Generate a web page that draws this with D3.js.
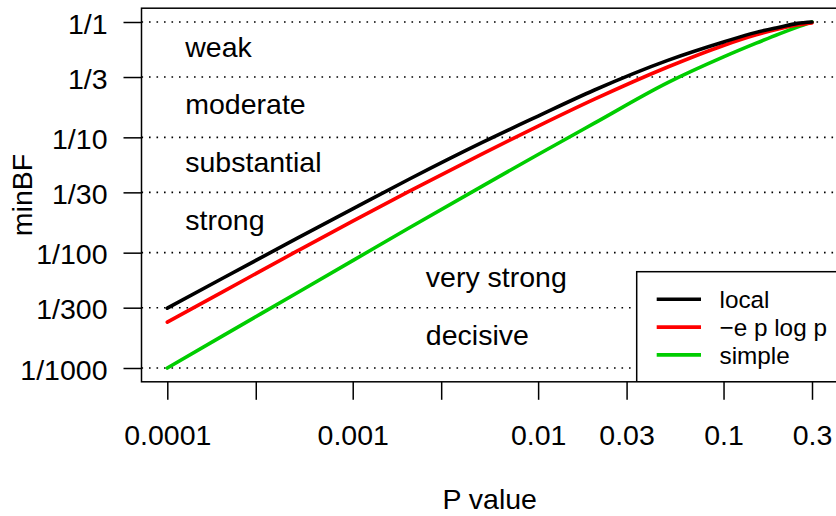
<!DOCTYPE html>
<html>
<head>
<meta charset="utf-8">
<script src="https://cdn.jsdelivr.net/npm/d3@7"></script>
<style>
  body { margin: 0; background: #fff; }
  svg { display: block; font-family: "Liberation Sans", Arial, sans-serif; }
</style>
</head>
<body>
<svg width="836" height="516"></svg>
<script>
// values
var pValues  = [0.0001, 0.0002, 0.0005, 0.001, 0.002, 0.005, 0.01, 0.02, 0.05, 0.1, 0.15, 0.2, 0.25, 0.3];
var localBF  = [0.0033, 0.00603, 0.0133, 0.0240, 0.0431, 0.0904, 0.153, 0.256, 0.465, 0.671, 0.813, 0.902, 0.973, 1.0];
var eplogpBF = [0.0025, 0.0046, 0.0103, 0.0188, 0.0338, 0.0720, 0.125, 0.213, 0.407, 0.626, 0.774, 0.875, 0.942, 0.982];
var simpleBF = [0.0010, 0.00191, 0.00447, 0.00853, 0.0163, 0.0378, 0.071, 0.132, 0.298, 0.498, 0.655, 0.789, 0.903, 1.0];

var seriesNames  = ["local", "\u2212e p log p", "simple"];
var seriesColors = ["#000000", "#ff0000", "#00cd00"];

var xTicks = [0.0001, 0.0003, 0.001, 0.003, 0.01, 0.03, 0.1, 0.3];
var xTickLabels = ["0.0001", "", "0.001", "", "0.01", "0.03", "0.1", "0.3"];
var yTicks = [1, 1/3, 1/10, 1/30, 1/100, 1/300, 1/1000];
var yTickLabels = ["1/1", "1/3", "1/10", "1/30", "1/100", "1/300", "1/1000"];

var bandNames = ["weak", "moderate", "substantial", "strong", "very strong", "decisive"];
var bandX = [0.000125, 0.000125, 0.000125, 0.000125, 0.00248, 0.00248];

var svg = d3.select("svg"),
    fs = 28.5;

var x = d3.scaleLog().domain([0.0001, 0.3]).range([167.3, 812]);
var y = d3.scaleLog().domain([1, 0.001]).range([22, 368]);

var pLeft = 141.5, pRight = 837.8, pTop = 8.2, pBottom = 381.8;

svg.append("defs").append("clipPath").attr("id", "plotclip")
    .append("rect").attr("x", pLeft).attr("y", pTop)
    .attr("width", pRight - pLeft).attr("height", pBottom - pTop);

var plot = svg.append("g").attr("clip-path", "url(#plotclip)");

// dotted reference lines
plot.selectAll(".grid")
    .data(yTicks)
    .enter().append("line")
    .attr("x1", pLeft).attr("x2", pRight)
    .attr("y1", function(d) { return y(d); })
    .attr("y2", function(d) { return y(d); })
    .attr("stroke", "#000")
    .attr("stroke-width", 1.6)
    .attr("stroke-dasharray", "1.6,5.9");

// band labels, centred between two reference lines
plot.selectAll(".band")
    .data(bandNames)
    .enter().append("text")
    .attr("x", function(d, i) { return x(bandX[i]); })
    .attr("y", function(d, i) { return (y(yTicks[i]) + y(yTicks[i + 1])) / 2 + 7.3; })
    .style("font-size", fs + "px")
    .text(function(d) { return d; });

var series = [localBF, eplogpBF, simpleBF];

var line = d3.line()
    .x(function(d) { return x(d[0]); })
    .y(function(d) { return y(d[1]); })
    .curve(d3.curveMonotoneX);

// draw simple first so black ends on top like the reference
[2, 1, 0].forEach(function(k) {
    plot.append("path")
        .datum(pValues.map(function(p, i) { return [p, series[k][i]]; }))
        .attr("d", line)
        .attr("fill", "none")
        .attr("stroke", seriesColors[k])
        .attr("stroke-width", 3.6)
        .attr("stroke-linecap", "round");
});

// legend (bottom right of plot region)
var lg = plot.append("g");
lg.append("rect")
    .attr("x", 636.7).attr("y", 271.7)
    .attr("width", pRight - 636.7).attr("height", pBottom - 271.7)
    .attr("fill", "#fff").attr("stroke", "#000").attr("stroke-width", 1.5);

var legendRows = lg.selectAll(".row")
    .data(seriesNames)
    .enter().append("g")
    .attr("transform", function(d, i) { return "translate(0," + (299.3 + i * 27.8) + ")"; });

legendRows.append("line")
    .attr("x1", 656.7).attr("x2", 701)
    .attr("stroke", function(d, i) { return seriesColors[i]; })
    .attr("stroke-width", 3.6);

legendRows.append("text")
    .attr("x", 719.5).attr("y", 8.6)
    .style("font-size", "24.3px")
    .text(function(d) { return d; });

// box
svg.append("rect")
    .attr("x", pLeft).attr("y", pTop)
    .attr("width", pRight - pLeft).attr("height", pBottom - pTop)
    .attr("fill", "none").attr("stroke", "#000").attr("stroke-width", 1.5);

// axes
var yAxis = svg.append("g")
    .attr("transform", "translate(" + pLeft + ",0)")
    .call(d3.axisLeft(y).tickValues(yTicks).tickSize(18).tickPadding(16)
        .tickFormat(function(d, i) { return yTickLabels[i]; }));

var xAxis = svg.append("g")
    .attr("transform", "translate(0," + pBottom + ")")
    .call(d3.axisBottom(x).tickValues(xTicks).tickSize(18).tickPadding(25)
        .tickFormat(function(d, i) { return xTickLabels[i]; }));

[xAxis, yAxis].forEach(function(a) {
    a.select(".domain").remove();
    a.selectAll("line").attr("stroke-width", 1.5);
    a.selectAll("text")
        .attr("font-family", null)
        .style("font-size", fs + "px")
        .attr("fill", "#000");
});
yAxis.selectAll("text").attr("dy", "0.39em");

// axis titles
svg.append("text")
    .attr("x", (pLeft + pRight) / 2).attr("y", 509)
    .attr("text-anchor", "middle")
    .style("font-size", fs + "px")
    .text("P value");

svg.append("text")
    .attr("transform", "translate(31.7," + (pTop + pBottom) / 2 + ") rotate(-90)")
    .attr("text-anchor", "middle")
    .style("font-size", fs + "px")
    .text("minBF");
</script>
</body>
</html>
